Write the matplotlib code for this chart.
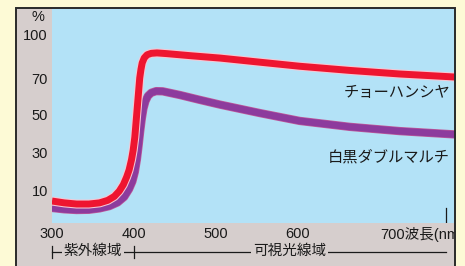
import numpy as np
import matplotlib
matplotlib.use("Agg")
import matplotlib.pyplot as plt
import matplotlib.transforms as mtransforms
import matplotlib.patheffects as pe
from matplotlib.patches import Rectangle

plt.rcParams["font.family"] = ["Liberation Sans", "Noto Sans CJK JP"]

# transmittance (%)
wl_red = [300, 315, 330, 345, 358, 368, 376, 382, 387, 391, 394, 397, 399, 401,
          402.5, 404, 405.5, 407, 408.5, 410, 412.5, 416, 421, 428, 440, 470,
          505, 554, 602, 663, 724, 791]
choohansiya = [5.2, 4.4, 3.9, 3.9, 4.4, 5.5, 7.2, 9.5, 12.8, 16.8, 20.5, 26, 31,
               38, 46, 54, 62, 70, 76, 80.5, 84, 86.2, 87.2, 87.5, 87, 85.5,
               83.9, 81, 78.2, 75.3, 72.8, 70.7]

wl_purple = [300, 315, 330, 345, 358, 370, 380, 388, 394, 398, 401, 403.5, 405.5,
             407.5, 409.5, 411.5, 414, 417, 421, 427, 435, 456, 480, 505, 554,
             602, 663, 724, 791]
shirokuro = [2.2, 1.6, 1.3, 1.4, 2.0, 3.0, 4.6, 7.0, 10.5, 14.5, 19.5, 26, 33,
             41, 48, 53.5, 57.5, 60.3, 62, 62.9, 62.8, 60.8, 58.2, 55.6, 51.0,
             46.8, 43.6, 41.3, 39.5]

x_ticks = [300, 400, 500, 600, 700]
x_labels = ["300", "400", "500", "600", "700波長(nm)"]
y_ticks = [10, 30, 50, 70, 100]
bands = [(300, 400, "紫外線域"), (400, 780, "可視光線域")]

# the printed y axis is not evenly spaced, so piece it together
scale_vals = [-20, 0, 10, 30, 50, 70, 100, 150]
scale_pos = [-36, 10, 33, 71, 108, 145, 188, 260]


def fwd(v):
    return np.interp(v, scale_vals, scale_pos)


def inv(h):
    return np.interp(h, scale_pos, scale_vals)


bg = "#fdfad6"
grey = "#d6cecd"
blue = "#b3e2f7"
red = "#ee1530"
purple = "#8d3b9d"
txt = "#1a1a1a"

fig = plt.figure(figsize=(4.65, 2.66), dpi=100, facecolor=bg)

# grey board behind the plot and its dark border
fig.add_artist(Rectangle((16 / 465, -0.05), 439 / 465, 1.05 - 8 / 266,
                         transform=fig.transFigure, facecolor=grey,
                         edgecolor="none", zorder=-1))
fig.add_artist(Rectangle((456 / 465, 0), 9 / 465, 1, transform=fig.transFigure,
                         facecolor=bg, edgecolor="none", zorder=4))
fig.add_artist(Rectangle((16 / 465, -0.05), 439 / 465, 1.05 - 8 / 266,
                         transform=fig.transFigure, facecolor="none",
                         edgecolor="#2a2a2a", linewidth=1.4, zorder=5))

ax = fig.add_axes([52 / 465, 43 / 266, 403 / 465, 215 / 266])
ax.set_facecolor(blue)
ax.set_yscale("function", functions=(fwd, inv))
ax.set_xlim(300, 791.5)
ax.set_ylim(inv(0), inv(215))
for s in ax.spines.values():
    s.set_visible(False)

ax.plot(wl_purple, shirokuro, color=purple, lw=5, solid_capstyle="butt",
        solid_joinstyle="round",
        path_effects=[pe.Stroke(linewidth=6, foreground="#c05a9a"), pe.Normal()])
ax.plot(wl_red, choohansiya, color=red, lw=5, solid_capstyle="butt",
        solid_joinstyle="round",
        path_effects=[pe.Stroke(linewidth=6.5, foreground="#f6c8d4"), pe.Normal()])

ax.set_xticks(x_ticks)
ax.set_xticklabels(x_labels)
ax.set_yticks(y_ticks)
ax.set_yticklabels([str(v) for v in y_ticks])
ax.yaxis.set_minor_locator(matplotlib.ticker.NullLocator())
ax.tick_params(length=0, labelsize=10.5, labelcolor=txt)
ax.tick_params(axis="x", pad=3)
ax.tick_params(axis="y", pad=3)
ax.get_xticklabels()[-1].set_horizontalalignment("left")

ax.text(-0.035, 0.958, "%", transform=ax.transAxes, ha="center", va="center",
        fontsize=10.5, color=txt)

ax.text(0.988, 0.605, "チョーハンシヤ", transform=ax.transAxes, ha="right",
        va="center", fontsize=11, color=txt)
ax.text(0.988, 0.307, "白黒ダブルマルチ", transform=ax.transAxes, ha="right",
        va="center", fontsize=11, color=txt)

# wavelength ranges under the axis
tr = mtransforms.blended_transform_factory(ax.transData, ax.transAxes)
band_y = -0.135
ax.plot([bands[0][0], bands[-1][1]], [band_y, band_y], transform=tr,
        color=txt, lw=0.9, clip_on=False)
for lo, hi, name in bands:
    ax.plot([lo, lo], [band_y - 0.028, band_y + 0.028], transform=tr,
            color=txt, lw=0.9, clip_on=False)
    ax.text((lo + hi) / 2, band_y + 0.005, name, transform=tr, ha="center",
            va="center", fontsize=10.5, color=txt,
            bbox=dict(facecolor=grey, edgecolor="none", pad=1.5))
ax.plot([bands[-1][1], bands[-1][1]], [0, 0.07], transform=tr, color=txt,
        lw=0.9)

fig.savefig("out.png", dpi=100, facecolor=bg)
